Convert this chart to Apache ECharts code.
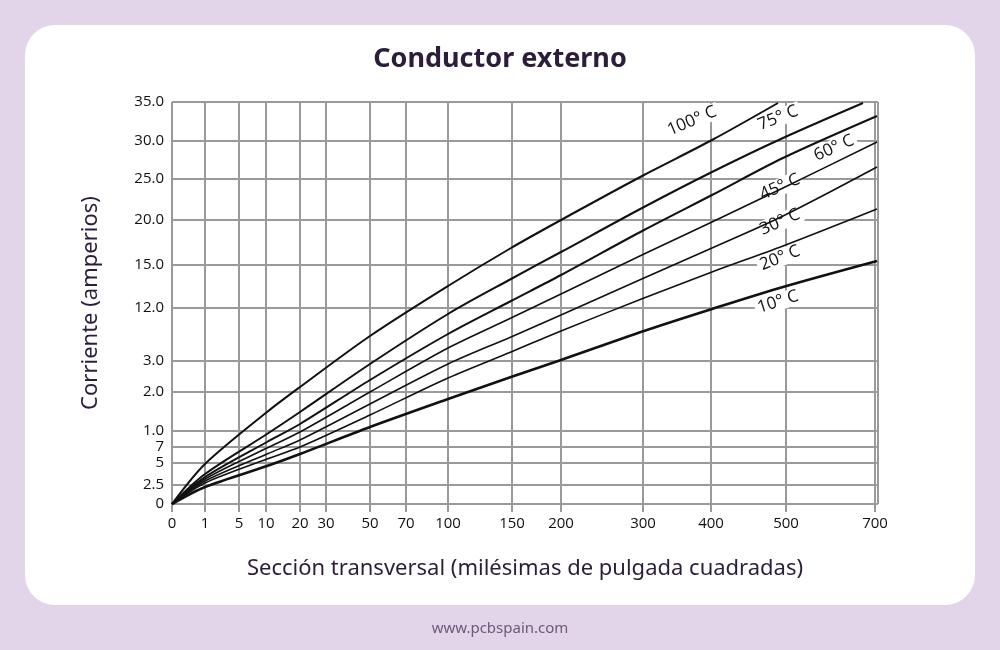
<!DOCTYPE html>
<html><head><meta charset="utf-8">
<script src="https://cdn.jsdelivr.net/npm/echarts@6/dist/echarts.min.js"></script>
<style>html,body{margin:0;padding:0;background:#e2d4e9;}
#card{position:absolute;left:25px;top:25px;width:950px;height:580px;background:#fff;border-radius:30px;}
#c{position:absolute;left:0;top:0;width:1000px;height:650px;}</style></head>
<body><div id="card"></div><div id="c"></div>
<script>
// positions on the chart's (non-linear) scales
const xTickPos = [0,33,67,94,128,154,198,234,276,340,389,471,539,614,703];
const xTickLabels = ['0','1','5','10','20','30','50','70','100','150','200','300','400','500','700'];
const yTickPos = [0,19,41,57,73,112,143,196,239,284,325,363,402];
const yTickLabels = ['0','2.5','5','7','1.0','2.0','3.0','12.0','15.0','20.0','25.0','30.0','35.0'];
const xs = [0,33,95,128,198,276,339,389,472,540,611,705];
const c100 = [0,40,92,117,168,218,256,284,329,364];
const c100End = [606,401];
const c75 = [0,30,70,92,140,190,225,252,297,332,366];
const c75End = [691,401];
const c60 = [0,27,62,80,124,170,203,229,274,309,346,388];
const c45 = [0,25,56,72,112,156,186,210,250,282,316,362];
const c30 = [0,23,50,64,100,140,167,189,226,256,288,337];
const c20 = [0,21,45,57,89,126,152,173,206,232,258,295];
const c10 = [0,17,38,50,77,105,127,144,173,195,217,243];
const labels = [['100° C',520,383,23],['75° C',606,386,22],['60° C',662,356,24],['45° C',608,317,24],['30° C',608,282,24],['20° C',608,246,22],['10° C',606,202,18]];

const pair = a => a.map((v,i)=>[xs[i],v]);
const line = (data,w,lab) => ({type:'line',data,smooth:0.3,symbol:'none',lineStyle:{color:'#111',width:w,join:'round'},z:5,
  markPoint: lab ? {symbol:'rect',symbolSize:1,itemStyle:{color:'transparent'},data:[{coord:[lab[1],lab[2]],
    label:{show:true,formatter:lab[0],rotate:lab[3],color:'#111',fontSize:17,fontFamily:'Open Sans',backgroundColor:'#fff',padding:[0,3]}}]} : undefined});
const gl = {type:'line',data:[],markLine:{silent:true,symbol:'none',label:{show:false},lineStyle:{color:'#9a9a9a',width:2,type:'solid'},
  data:[...xTickPos.map(v=>({xAxis:v})),...yTickPos.map(v=>({yAxis:v})),{xAxis:706}]},z:1};
const ch = echarts.init(document.getElementById('c'));
ch.setOption({
  animation:false,
  title:{text:'Conductor externo',left:'center',top:41,textStyle:{fontSize:27,fontWeight:'bold',color:'#2b1d3b',fontFamily:'Noto Sans'}},
  graphic:[{type:'text',left:'center',top:621,style:{text:'www.pcbspain.com',fontSize:15,fill:'#6b5a78',fontFamily:'Noto Sans'}}],
  grid:{left:172,top:102,width:706,height:402},
  xAxis:{type:'value',min:0,max:706,name:'Sección transversal (milésimas de pulgada cuadradas)',nameLocation:'middle',nameGap:54,
    nameTextStyle:{fontSize:22,color:'#2b1d3b',fontFamily:'Noto Sans'},
    axisLine:{show:false},splitLine:{show:false},
    axisTick:{show:true,customValues:xTickPos,length:8,lineStyle:{color:'#9a9a9a',width:2}},
    axisLabel:{customValues:xTickPos,formatter:v=>xTickLabels[xTickPos.indexOf(v)],color:'#111',fontSize:15,fontFamily:'Open Sans',margin:12}},
  yAxis:{type:'value',min:0,max:402,name:'Corriente (amperios)',nameLocation:'middle',nameGap:70,
    nameTextStyle:{fontSize:22,color:'#2b1d3b',fontFamily:'Noto Sans'},
    axisLine:{show:false},splitLine:{show:false},axisTick:{show:false},
    axisLabel:{customValues:yTickPos,formatter:v=>yTickLabels[yTickPos.indexOf(v)],color:'#111',fontSize:15,fontFamily:'Open Sans',margin:8}},
  series:[gl,
    line([...pair(c100),c100End],2,labels[0]),
    line([...pair(c75),c75End],2,labels[1]),
    line(pair(c60),2,labels[2]),
    line(pair(c45),1.6,labels[3]),
    line(pair(c30),1.6,labels[4]),
    line(pair(c20),1.6,labels[5]),
    line(pair(c10),2.6,labels[6])]
});
</script></body></html>
